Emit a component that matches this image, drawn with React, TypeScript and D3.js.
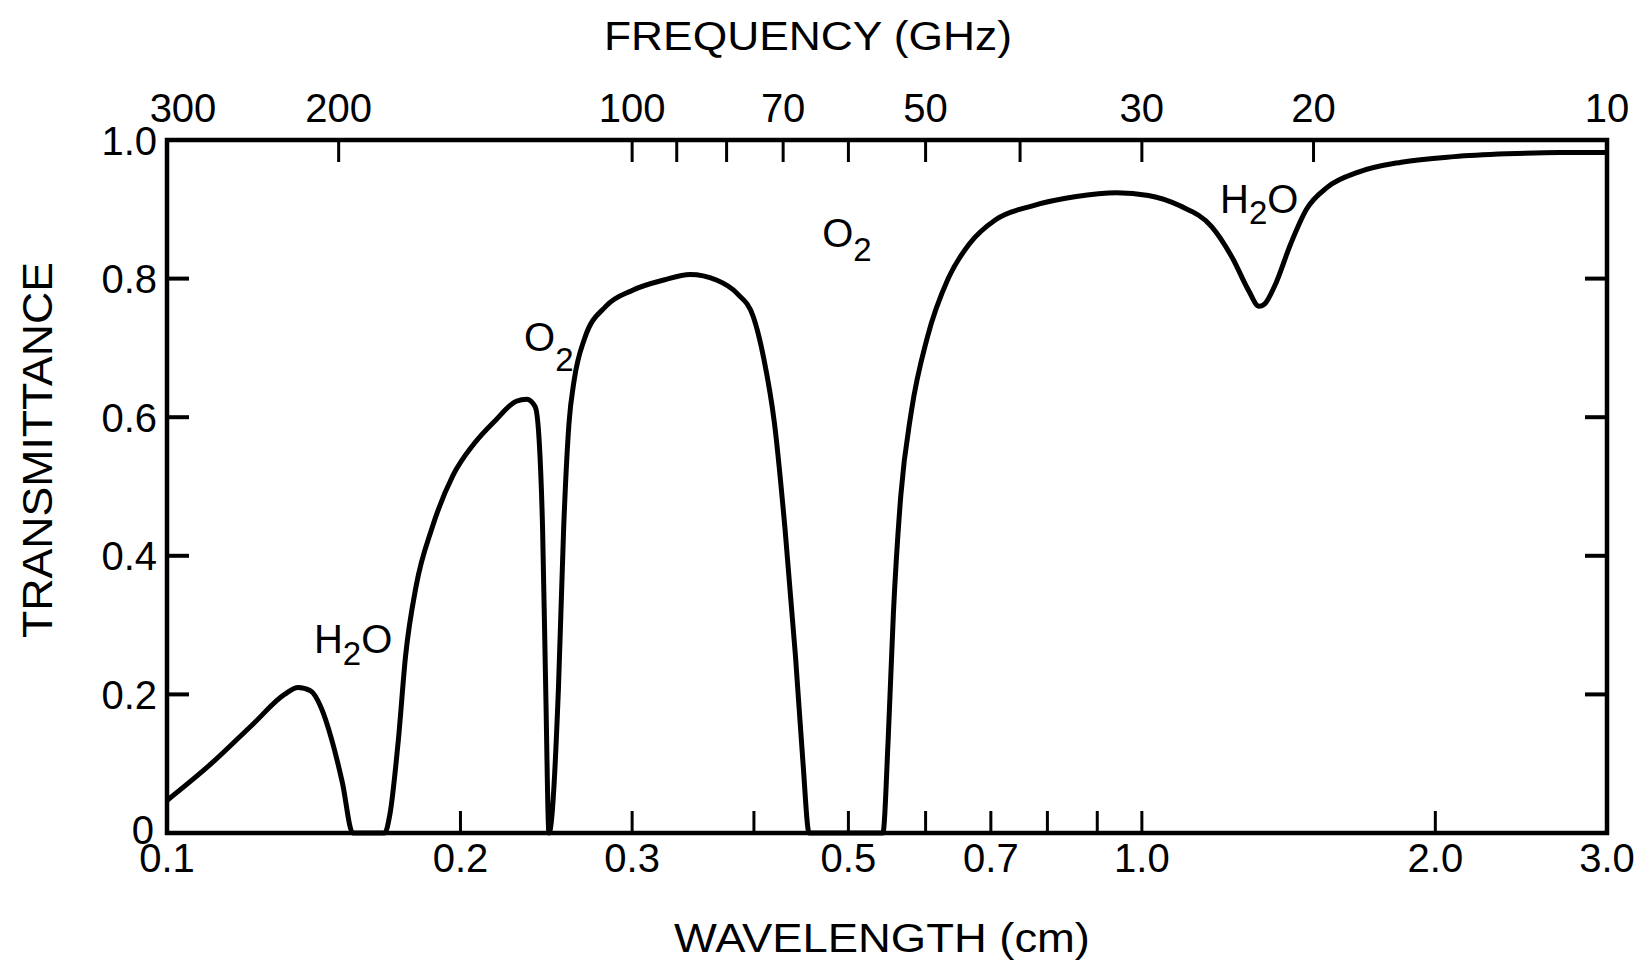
import React from "react";
import * as d3 from "d3";

// transmittance curve (wavelength in cm)
const wavelength = [
  0.1, 0.111, 0.1225, 0.132, 0.1363, 0.1404, 0.144, 0.1476, 0.1513, 0.1551,
  0.1672, 0.1693, 0.1727, 0.1757, 0.1801, 0.187, 0.1965, 0.2066, 0.2171, 0.2282,
  0.2339, 0.2386, 0.241, 0.2428, 0.2446, 0.2465, 0.2521, 0.2552, 0.2584, 0.2616,
  0.2682, 0.2819, 0.3, 0.3233, 0.344, 0.3661, 0.3848, 0.3994, 0.4095, 0.4198,
  0.4304, 0.4412, 0.449, 0.4557, 0.5424, 0.5492, 0.5561, 0.5658, 0.5801, 0.6022,
  0.6329, 0.6652, 0.7079, 0.7724, 0.8532, 0.9425, 1.0155, 1.0942, 1.1791, 1.2393,
  1.2865, 1.3189, 1.3354, 1.3691, 1.4211, 1.4752, 1.5504, 1.6706, 1.8456, 2.0901,
  2.3672, 2.6806, 3.0,
];
const transmittance = [
  0.047, 0.1, 0.157, 0.2, 0.21, 0.205, 0.18, 0.134, 0.073, 0.0,
  0.0, 0.027, 0.134, 0.256, 0.356, 0.44, 0.516, 0.562, 0.595, 0.623,
  0.626, 0.615, 0.56, 0.44, 0.21, 0.0, 0.21, 0.44, 0.59, 0.653,
  0.714, 0.76, 0.783, 0.798, 0.806, 0.798, 0.778, 0.745, 0.684, 0.592,
  0.44, 0.256, 0.104, 0.0, 0.0, 0.134, 0.318, 0.486, 0.608, 0.714,
  0.8, 0.85, 0.885, 0.905, 0.918, 0.924, 0.92, 0.905, 0.875, 0.829,
  0.783, 0.76, 0.763, 0.79, 0.85, 0.9, 0.932, 0.954, 0.968, 0.976,
  0.98, 0.982, 0.982,
];

const yTickValues = [0.2, 0.4, 0.6, 0.8];
const yLabelValues = [0, 0.2, 0.4, 0.6, 0.8, 1.0];
const yLabelText = ["0", "0.2", "0.4", "0.6", "0.8", "1.0"];

const wlTickValues = [0.2, 0.3, 0.4, 0.5, 0.6, 0.7, 0.8, 0.9, 1.0, 2.0];
const wlLabelValues = [0.1, 0.2, 0.3, 0.5, 0.7, 1.0, 2.0, 3.0];
const wlLabelText = ["0.1", "0.2", "0.3", "0.5", "0.7", "1.0", "2.0", "3.0"];

const freqTickValues = [200, 100, 90, 80, 70, 60, 50, 40, 30, 20];
const freqLabelValues = [300, 200, 100, 70, 50, 30, 20, 10];

// molecule labels: [first part, subscript, last part, wavelength, transmittance]
const notes: [string, string, string, number, number][] = [
  ["H", "2", "O", 0.1415, 0.26],
  ["O", "2", "", 0.2324, 0.695],
  ["O", "2", "", 0.47, 0.845],
  ["H", "2", "O", 1.203, 0.895],
];
const noteSubDrop = [12, 20, 14, 11];

const FONT = "'Liberation Sans', Arial, sans-serif";

export default function App() {
  const left = 167;
  const right = 1607;
  const top = 140;
  const bottom = 833;

  const x = d3.scaleLog().domain([0.1, 3.0]).range([left, right]);
  const xf = d3.scaleLog().domain([300, 10]).range([left, right]);
  const y = d3.scaleLinear().domain([0, 1]).range([bottom, top]);

  const pts = wavelength.map((w, i) => [w, transmittance[i]] as [number, number]);
  const line = d3
    .line<[number, number]>()
    .x((d) => x(d[0]))
    .y((d) => y(d[1]))
    .curve(d3.curveMonotoneX);

  const tick = 22;

  return (
    <svg
      width={1652}
      height={962}
      style={{ position: "absolute", left: 0, top: 0, background: "#fff" }}
      fontFamily={FONT}
    >
      <rect x={left} y={top} width={right - left} height={bottom - top} fill="none" stroke="#000" strokeWidth={4.5} />

      {yTickValues.map((v) => (
        <g key={"yt" + v}>
          <line x1={left} x2={left + tick} y1={y(v)} y2={y(v)} stroke="#000" strokeWidth={4} />
          <line x1={right} x2={right - tick} y1={y(v)} y2={y(v)} stroke="#000" strokeWidth={4} />
        </g>
      ))}
      {yLabelValues.map((v, i) => (
        <text
          key={"yl" + v}
          x={v === 0 ? 154 : 157}
          y={y(v) + (v === 0 ? 0 : 4)}
          textAnchor="end"
          dominantBaseline="middle"
          fontSize={40}
        >
          {yLabelText[i]}
        </text>
      ))}

      {wlTickValues.map((v) => (
        <line key={"xt" + v} x1={x(v)} x2={x(v)} y1={bottom} y2={bottom - tick} stroke="#000" strokeWidth={3} />
      ))}
      {wlLabelValues.map((v, i) => (
        <text key={"xl" + v} x={x(v)} y={872} textAnchor="middle" fontSize={40}>
          {wlLabelText[i]}
        </text>
      ))}

      {freqTickValues.map((v) => (
        <line key={"ft" + v} x1={xf(v)} x2={xf(v)} y1={top} y2={top + tick} stroke="#000" strokeWidth={3} />
      ))}
      {freqLabelValues.map((v) => (
        <text key={"fl" + v} x={xf(v) + (v === 300 ? 16 : 0)} y={122} textAnchor="middle" fontSize={40}>
          {v}
        </text>
      ))}

      <path d={line(pts) ?? ""} fill="none" stroke="#000" strokeWidth={5} strokeLinejoin="round" />

      {notes.map(([a, sub, b, w, t], i) => (
        <text key={"n" + i} x={x(w)} y={y(t)} fontSize={40}>
          {a}
          <tspan fontSize={33} dy={noteSubDrop[i]}>{sub}</tspan>
          {b ? <tspan dy={-noteSubDrop[i]}>{b}</tspan> : null}
        </text>
      ))}

      <text x={808} y={50} textAnchor="middle" fontSize={40} textLength={408} lengthAdjust="spacingAndGlyphs">
        FREQUENCY (GHz)
      </text>
      <text x={882} y={952} textAnchor="middle" fontSize={40} textLength={416} lengthAdjust="spacingAndGlyphs">
        WAVELENGTH (cm)
      </text>
      <text
        transform="translate(52,450) rotate(-90)"
        textAnchor="middle"
        fontSize={42}
        textLength={376}
        lengthAdjust="spacingAndGlyphs"
      >
        TRANSMITTANCE
      </text>
    </svg>
  );
}
